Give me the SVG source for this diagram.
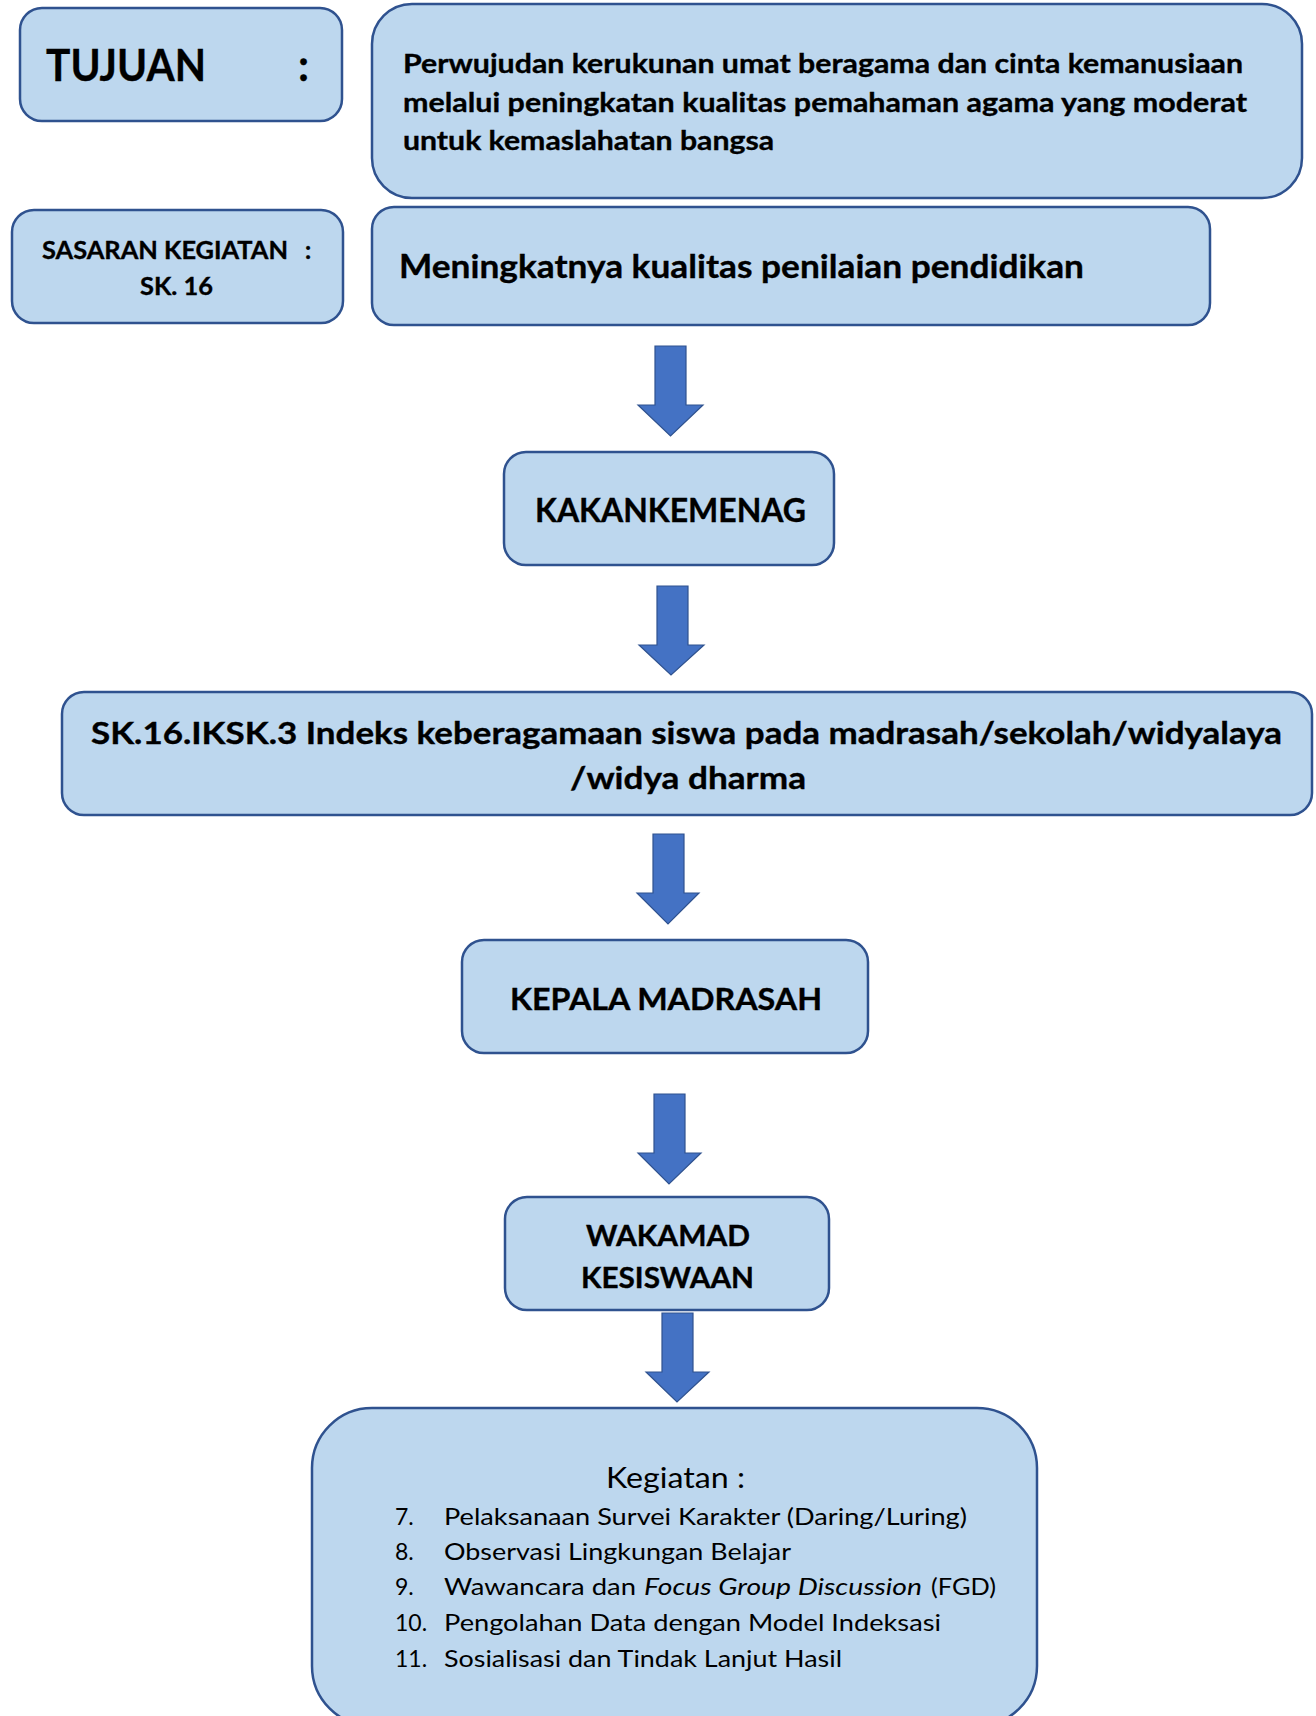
<svg xmlns="http://www.w3.org/2000/svg" width="1316" height="1716" viewBox="0 0 1316 1716">
<style>
.box{fill:#BDD7EE;stroke:#2F528F;stroke-width:2.5}
.arr{fill:#4472C4;stroke:#2F528F;stroke-width:1.2}
.t{font-family:Lato,"Open Sans","Liberation Sans",sans-serif;fill:#000}
.b{font-weight:bold;stroke:#000;stroke-width:0.35}
</style>
<rect width="1316" height="1716" fill="#ffffff"/>
<g id="tujuan-label">
<rect class="box" x="20" y="8" width="322" height="113" rx="22"/>
<text class="t b" x="46" y="81" font-size="43" textLength="160" lengthAdjust="spacingAndGlyphs">TUJUAN</text>
<text class="t b" x="298" y="81" font-size="43">:</text>
</g>
<g id="tujuan-text">
<rect class="box" x="372" y="4" width="930" height="194" rx="40"/>
<text class="t b" x="403" y="73" font-size="27" textLength="840" lengthAdjust="spacingAndGlyphs">Perwujudan kerukunan umat beragama dan cinta kemanusiaan</text>
<text class="t b" x="403" y="112" font-size="27" textLength="844" lengthAdjust="spacingAndGlyphs">melalui peningkatan kualitas pemahaman agama yang moderat</text>
<text class="t b" x="403" y="150" font-size="27" textLength="371" lengthAdjust="spacingAndGlyphs">untuk kemaslahatan bangsa</text>
</g>
<g id="sasaran-label">
<rect class="box" x="12" y="210" width="331" height="113" rx="22"/>
<text class="t b" x="42" y="259" font-size="24" textLength="246" lengthAdjust="spacingAndGlyphs">SASARAN KEGIATAN</text>
<text class="t b" x="305" y="259" font-size="24">:</text>
<text class="t b" x="140" y="295" font-size="24" textLength="73" lengthAdjust="spacingAndGlyphs">SK. 16</text>
</g>
<g id="sasaran-text">
<rect class="box" x="372" y="207" width="838" height="118" rx="22"/>
<text class="t b" x="399" y="278" font-size="32" textLength="685" lengthAdjust="spacingAndGlyphs">Meningkatnya kualitas penilaian pendidikan</text>
</g>
<g id="kakankemenag">
<rect class="box" x="504" y="452" width="330" height="113" rx="22"/>
<text class="t b" x="535" y="522" font-size="32" textLength="271" lengthAdjust="spacingAndGlyphs">KAKANKEMENAG</text>
</g>
<g id="iksk">
<rect class="box" x="62" y="692" width="1250" height="123" rx="22"/>
<text class="t b" x="91" y="744" font-size="30" textLength="1191" lengthAdjust="spacingAndGlyphs">SK.16.IKSK.3 Indeks keberagamaan siswa pada madrasah/sekolah/widyalaya</text>
<text class="t b" x="570" y="789" font-size="30" textLength="236" lengthAdjust="spacingAndGlyphs">/widya dharma</text>
</g>
<g id="kepala-madrasah">
<rect class="box" x="462" y="940" width="406" height="113" rx="22"/>
<text class="t b" x="510" y="1010" font-size="30" textLength="312" lengthAdjust="spacingAndGlyphs">KEPALA MADRASAH</text>
</g>
<g id="wakamad">
<rect class="box" x="505" y="1197" width="324" height="113" rx="22"/>
<text class="t b" x="586" y="1246" font-size="28" textLength="164" lengthAdjust="spacingAndGlyphs">WAKAMAD</text>
<text class="t b" x="581" y="1288" font-size="28" textLength="173" lengthAdjust="spacingAndGlyphs">KESISWAAN</text>
</g>
<g id="kegiatan">
<rect class="box" x="312" y="1408" width="725" height="318" rx="60"/>
<text class="t" x="606" y="1488" font-size="29" textLength="139" lengthAdjust="spacingAndGlyphs">Kegiatan :</text>
<text class="t" font-size="23"><tspan x="395" y="1525">7.</tspan><tspan x="444" y="1525" textLength="523" lengthAdjust="spacingAndGlyphs">Pelaksanaan Survei Karakter (Daring/Luring)</tspan></text>
<text class="t" font-size="23"><tspan x="395" y="1560">8.</tspan><tspan x="444" y="1560" textLength="347" lengthAdjust="spacingAndGlyphs">Observasi Lingkungan Belajar</tspan></text>
<text class="t" font-size="23"><tspan x="395" y="1595">9.</tspan><tspan x="444" y="1595" textLength="192" lengthAdjust="spacingAndGlyphs">Wawancara dan</tspan><tspan x="644" y="1595" font-style="italic" textLength="278" lengthAdjust="spacingAndGlyphs">Focus Group Discussion</tspan><tspan x="931" y="1595" textLength="65" lengthAdjust="spacingAndGlyphs">(FGD)</tspan></text>
<text class="t" font-size="23"><tspan x="395" y="1631">10.</tspan><tspan x="444" y="1631" textLength="497" lengthAdjust="spacingAndGlyphs">Pengolahan Data dengan Model Indeksasi</tspan></text>
<text class="t" font-size="23"><tspan x="395" y="1667">11.</tspan><tspan x="444" y="1667" textLength="398" lengthAdjust="spacingAndGlyphs">Sosialisasi dan Tindak Lanjut Hasil</tspan></text>
</g>
<g id="connectors">
<polygon class="arr" points="655,346 686,346 686,405 703,405 670.5,436 638,405 655,405"/>
<polygon class="arr" points="657,586 688,586 688,645 704,645 671,675 639,645 657,645"/>
<polygon class="arr" points="653,834 684,834 684,893 699,893 668,924 637,893 653,893"/>
<polygon class="arr" points="654,1094 685,1094 685,1153 701,1153 669,1184 638,1153 654,1153"/>
<polygon class="arr" points="662,1313 693,1313 693,1372 709,1372 677,1402 646,1372 662,1372"/>
</g>
</svg>
